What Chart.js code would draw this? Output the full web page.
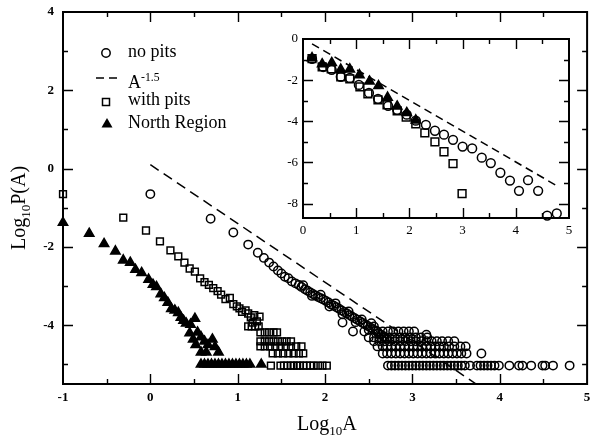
<!DOCTYPE html>
<html>
<head>
<meta charset="utf-8">
<script src="https://cdn.jsdelivr.net/npm/chart.js@4.4.0/dist/chart.umd.min.js"></script>
<style>
  html, body { margin: 0; padding: 0; background: #fff; }
  #wrap { position: relative; width: 594px; height: 439px; overflow: hidden;
          font-family: "Liberation Serif", "Times New Roman", serif; color: #000; }
  canvas { position: absolute; }
  #mainChart { left: 0; top: 0; }
  #insetChart { left: 268px; top: 28px; }
  .lbl { position: absolute; white-space: nowrap; line-height: 1; }
  .title { font-size: 20px; }
  .leg { font-size: 18px; left: 128px; }
  sub, sup { font-size: 65%; line-height: 0; }
  #yTitle { left: 8px; top: 250px; transform-origin: 0 0; transform: rotate(-90deg); }
  #xTitle { left: 297px; top: 413px; }
</style>
</head>
<body>
<div id="wrap">
  <canvas id="mainChart" width="594" height="439"></canvas>
  <canvas id="insetChart" width="316" height="220"></canvas>
  <div class="lbl title" id="yTitle">Log<sub>10</sub>P(A)</div>
  <div class="lbl title" id="xTitle">Log<sub>10</sub>A</div>
  <div class="lbl leg" style="top:42px">no pits</div>
  <div class="lbl leg" style="top:73px">A<sup>-1.5</sup></div>
  <div class="lbl leg" style="top:90px">with pits</div>
  <div class="lbl leg" style="top:113px">North Region</div>
</div>
<script>
// Log10 P(A) vs Log10 A -- main plot + inset

const mainXTicks = [-1, 0, 1, 2, 3, 4, 5];
const mainYTicks = [-4, -2, 0, 2, 4];
const insetXTicks = [0, 1, 2, 3, 4, 5];
const insetYTicks = [-8, -6, -4, -2, 0];

// --- main plot data ---
const noPits = [
  [0.00,-0.65],[0.69,-1.28],[0.95,-1.63],[1.12,-1.94],[1.23,-2.15],[1.30,-2.28],
  [1.36,-2.40],[1.41,-2.50],[1.46,-2.60],[1.50,-2.68],[1.54,-2.76],[1.58,-2.80],
  [1.62,-2.88],[1.66,-2.93],[1.70,-2.97],[1.73,-3.02],[1.77,-3.08],[1.80,-3.12],
  [1.83,-3.16],[1.86,-3.20],[1.89,-3.24],[1.92,-3.28],[1.95,-3.31],[1.98,-3.34],
  [2.01,-3.38],[2.04,-3.42],[2.07,-3.47],[2.10,-3.50],[2.13,-3.54],[2.16,-3.58],
  [2.19,-3.62],[2.22,-3.66],[2.25,-3.70],[2.28,-3.74],[2.31,-3.78],[2.34,-3.82],
  [2.37,-3.86],[2.40,-3.90],[2.43,-3.94],[2.46,-3.98],[2.49,-4.02],[2.52,-4.06],
  [2.55,-4.10],[2.58,-4.14],[2.61,-4.20],[2.64,-4.24],[2.67,-4.28],[2.70,-4.33],
  [1.75,-2.98],[1.85,-3.25],[1.95,-3.22],[2.05,-3.52],[2.12,-3.44],[2.20,-3.72],
  [2.27,-3.65],[2.35,-3.92],[2.42,-3.85],[2.50,-4.12],[2.56,-4.03],[2.20,-3.93],
  [2.45,-4.16],[2.53,-3.95],[3.16,-4.24],
  [2.32,-4.16],[2.60,-4.16],[2.66,-4.16],[2.72,-4.16],[2.78,-4.16],[2.84,-4.16],
  [2.90,-4.16],[2.96,-4.16],[3.02,-4.16],
  [2.50,-4.31],[2.56,-4.31],[2.62,-4.31],[2.68,-4.31],[2.74,-4.31],[2.80,-4.31],
  [2.86,-4.31],[2.92,-4.31],[2.98,-4.31],[3.04,-4.31],[3.10,-4.31],[3.17,-4.31],
  [2.56,-4.41],[2.62,-4.41],[2.68,-4.41],[2.74,-4.41],[2.80,-4.41],[2.86,-4.41],
  [2.92,-4.41],[2.98,-4.41],[3.04,-4.41],[3.10,-4.41],[3.16,-4.41],[3.22,-4.41],
  [3.28,-4.41],[3.34,-4.41],[3.41,-4.41],[3.48,-4.41],
  [2.60,-4.54],[2.66,-4.54],[2.71,-4.54],[2.76,-4.54],[2.81,-4.54],[2.86,-4.54],
  [2.91,-4.54],[2.96,-4.54],[3.01,-4.54],[3.06,-4.54],[3.11,-4.54],[3.16,-4.54],
  [3.21,-4.54],[3.26,-4.54],[3.31,-4.54],[3.36,-4.54],[3.42,-4.54],[3.48,-4.54],
  [3.55,-4.54],[3.61,-4.54],
  [2.66,-4.72],[2.71,-4.72],[2.76,-4.72],[2.81,-4.72],[2.86,-4.72],[2.91,-4.72],
  [2.96,-4.72],[3.01,-4.72],[3.06,-4.72],[3.11,-4.72],[3.16,-4.72],[3.21,-4.72],
  [3.26,-4.72],[3.31,-4.72],[3.36,-4.72],[3.41,-4.72],[3.46,-4.72],[3.51,-4.72],
  [3.56,-4.72],[3.62,-4.72],[3.79,-4.72],
  [2.72,-5.03],[2.76,-5.03],[2.80,-5.03],[2.84,-5.03],[2.88,-5.03],[2.92,-5.03],
  [2.96,-5.03],[3.00,-5.03],[3.04,-5.03],[3.08,-5.03],[3.12,-5.03],[3.16,-5.03],
  [3.20,-5.03],[3.24,-5.03],[3.28,-5.03],[3.32,-5.03],[3.36,-5.03],[3.40,-5.03],
  [3.44,-5.03],[3.48,-5.03],[3.52,-5.03],[3.56,-5.03],[3.60,-5.03],[3.66,-5.03],
  [3.74,-5.03],[3.78,-5.03],[3.82,-5.03],[3.86,-5.03],[3.90,-5.03],[3.94,-5.03],
  [3.99,-5.03],[4.11,-5.03],[4.22,-5.03],[4.26,-5.03],[4.36,-5.03],[4.49,-5.03],
  [4.52,-5.03],[4.61,-5.03],[4.80,-5.03]
];

const withPits = [
  [-1.00,-0.65],[-0.31,-1.25],[-0.05,-1.58],[0.11,-1.86],[0.23,-2.09],[0.32,-2.24],
  [0.39,-2.40],[0.45,-2.55],[0.51,-2.63],[0.57,-2.80],[0.62,-2.90],[0.67,-2.97],
  [0.72,-3.05],[0.77,-3.13],[0.81,-3.22],[0.86,-3.33],[0.91,-3.30],[0.95,-3.46],
  [0.99,-3.52],[1.02,-3.57],[1.05,-3.66],[1.09,-3.62],[1.12,-3.70],[1.15,-3.80],
  [1.19,-3.74],[1.22,-3.90],[1.17,-3.93],[1.25,-3.78],
  [1.12,-4.03],[1.16,-4.03],[1.20,-4.03],[1.24,-4.03],
  [1.26,-4.18],[1.31,-4.18],[1.36,-4.18],[1.41,-4.18],[1.45,-4.18],
  [1.26,-4.41],[1.31,-4.41],[1.36,-4.41],[1.41,-4.41],[1.46,-4.41],[1.51,-4.41],
  [1.56,-4.41],[1.61,-4.41],
  [1.26,-4.54],[1.31,-4.54],[1.37,-4.54],[1.43,-4.54],[1.49,-4.54],[1.55,-4.54],
  [1.61,-4.54],[1.67,-4.54],[1.73,-4.54],
  [1.40,-4.72],[1.46,-4.72],[1.52,-4.72],[1.58,-4.72],[1.64,-4.72],[1.70,-4.72],
  [1.75,-4.72],
  [1.38,-5.03],[1.49,-5.03],[1.53,-5.03],[1.57,-5.03],[1.61,-5.03],[1.64,-5.03],
  [1.68,-5.03],[1.71,-5.03],[1.75,-5.03],[1.79,-5.03],[1.83,-5.03],[1.87,-5.03],
  [1.92,-5.03],[1.97,-5.03],[2.02,-5.03]
];

const northRegion = [
  [-1.00,-1.38],[-0.70,-1.66],[-0.53,-1.92],[-0.40,-2.11],[-0.31,-2.34],[-0.23,-2.40],
  [-0.17,-2.58],[-0.10,-2.66],[-0.02,-2.83],[0.03,-2.96],[0.07,-3.02],[0.12,-3.20],
  [0.16,-3.30],[0.20,-3.42],[0.24,-3.58],[0.28,-3.62],[0.32,-3.68],[0.35,-3.80],
  [0.38,-3.88],[0.41,-3.95],[0.46,-3.98],[0.51,-3.83],[0.54,-4.18],[0.58,-4.30],
  [0.62,-4.41],[0.66,-4.50],[0.71,-4.36],[0.74,-4.55],[0.78,-4.69],[0.58,-4.69],
  [0.64,-4.69],[0.45,-4.20],[0.49,-4.36],[0.52,-4.50],
  [0.58,-5.00],[0.62,-5.00],[0.66,-5.00],[0.70,-5.00],[0.74,-5.00],[0.78,-5.00],
  [0.82,-5.00],[0.86,-5.00],[0.90,-5.00],[0.94,-5.00],[0.98,-5.00],[1.02,-5.00],
  [1.06,-5.00],[1.10,-5.00],[1.14,-5.00],[1.27,-5.00]
];

const powerLaw = [[0.00, 0.10], [3.73, -5.50]];   // A^-1.5

// --- inset data ---
const insetNoPits = [
  [0.17,-0.97],[0.38,-1.36],[0.54,-1.50],[0.71,-1.84],[0.88,-1.89],[1.05,-2.23],
  [1.24,-2.62],[1.41,-2.91],[1.60,-3.25],[1.77,-3.44],[1.95,-3.68],[2.12,-3.97],
  [2.31,-4.17],[2.48,-4.46],[2.65,-4.65],[2.82,-4.90],[3.00,-5.23],[3.18,-5.32],
  [3.36,-5.77],[3.53,-6.03],[3.71,-6.50],[3.89,-6.88],[4.06,-7.38],[4.23,-6.86],
  [4.42,-7.38],[4.59,-8.58],[4.77,-8.48]
];
const insetWithPits = [
  [0.17,-0.95],[0.36,-1.36],[0.53,-1.45],[0.71,-1.84],[0.88,-1.94],[1.07,-2.33],
  [1.22,-2.67],[1.41,-2.96],[1.58,-3.20],[1.77,-3.49],[1.94,-3.80],[2.12,-4.12],
  [2.29,-4.56],[2.48,-5.00],[2.65,-5.48],[2.82,-6.06],[2.99,-7.51]
];
const insetNorth = [
  [0.17,-0.92],[0.36,-1.22],[0.54,-1.16],[0.71,-1.48],[0.88,-1.47],[1.06,-1.75],
  [1.25,-2.06],[1.42,-2.28],[1.59,-2.84],[1.77,-3.27],[1.95,-3.59],[2.12,-3.95]
];
const insetPowerLaw = [[0.17, -0.24], [4.77, -7.13]];

const FONT = 'Liberation Serif';
const pts = list => list.map(([x, y]) => ({ x, y }));

// inward ticks on all four sides + frame (xmgrace look)
const frameTicks = {
  id: 'frameTicks',
  beforeDatasetsDraw(chart, args, opts) {
    const { ctx, chartArea: a, scales: { x, y } } = chart;
    ctx.save();
    ctx.strokeStyle = '#000';
    ctx.lineWidth = opts.tickWidth;
    const marks = (scale, majors) => {
      const step = majors[1] - majors[0];
      const out = [];
      for (let k = -4; k <= majors.length * 2 + 4; k++) {
        const v = majors[0] + k * step / 2;
        if (v > scale.min + 1e-9 && v < scale.max - 1e-9) out.push({ v, major: k % 2 === 0 });
      }
      return out;
    };
    ctx.beginPath();
    marks(x, opts.xMajors).forEach(({ v, major }) => {
      const p = Math.round(x.getPixelForValue(v)) + 0.5;
      const len = major ? opts.major : opts.minor;
      ctx.moveTo(p, a.bottom); ctx.lineTo(p, a.bottom - len);
      ctx.moveTo(p, a.top); ctx.lineTo(p, a.top + len);
    });
    marks(y, opts.yMajors).forEach(({ v, major }) => {
      const p = Math.round(y.getPixelForValue(v)) + 0.5;
      const len = major ? opts.major : opts.minor;
      ctx.moveTo(a.left, p); ctx.lineTo(a.left + len, p);
      ctx.moveTo(a.right, p); ctx.lineTo(a.right - len, p);
    });
    ctx.stroke();
    ctx.lineWidth = opts.frameWidth;
    ctx.strokeRect(a.left, a.top, a.right - a.left, a.bottom - a.top);
    ctx.restore();
  }
};

// legend symbols next to the html legend text
const legendMarks = {
  id: 'legendMarks',
  afterDraw(chart) {
    const ctx = chart.ctx;
    ctx.save();
    ctx.strokeStyle = '#000';
    ctx.fillStyle = '#000';
    ctx.lineWidth = 1.5;
    ctx.beginPath();
    ctx.arc(106, 53, 4.2, 0, Math.PI * 2);
    ctx.stroke();
    ctx.setLineDash([8, 5]);
    ctx.beginPath();
    ctx.moveTo(96, 78); ctx.lineTo(118, 78);
    ctx.stroke();
    ctx.setLineDash([]);
    ctx.strokeRect(102.5, 98.5, 7, 7);
    ctx.beginPath();
    ctx.moveTo(107, 118); ctx.lineTo(112.5, 127.5); ctx.lineTo(101.5, 127.5);
    ctx.closePath();
    ctx.fill();
    ctx.restore();
  }
};

function markerSet(data, style, radius, filled) {
  return {
    data: pts(data),
    showLine: false,
    pointStyle: style,
    pointRadius: radius,
    pointHoverRadius: radius,
    pointBorderWidth: 1.5,
    pointBorderColor: '#000',
    pointBackgroundColor: filled ? '#000' : 'rgba(0,0,0,0)',
    clip: false
  };
}
function dashedSet(data, dash) {
  return {
    data: pts(data),
    showLine: true,
    pointRadius: 0,
    borderColor: '#000',
    borderWidth: 1.5,
    borderDash: dash,
    fill: false
  };
}

function axis(min, max, ticks, font, pad, size, horizontal) {
  return {
    type: 'linear',
    min, max,
    grid: { display: false, drawTicks: false },
    border: { display: false },
    afterBuildTicks: s => { s.ticks = ticks.map(v => ({ value: v })); },
    afterFit: s => {
      if (horizontal) s.height = size; else s.width = size;
      s.paddingLeft = 0; s.paddingRight = 0; s.paddingTop = 0; s.paddingBottom = 0;
    },
    ticks: { color: '#000', padding: pad, maxRotation: 0, autoSkip: false, font }
  };
}

const mainTickFont = { family: FONT, size: 13, weight: 'bold' };
const insetTickFont = { family: FONT, size: 13 };

new Chart(document.getElementById('mainChart'), {
  type: 'scatter',
  data: {
    datasets: [
      markerSet(northRegion, 'triangle', 5.4, true),
      markerSet(withPits, 'rect', 4.8, false),
      markerSet(noPits, 'circle', 4.2, false),
      dashedSet(powerLaw, [10, 6])
    ]
  },
  options: {
    responsive: false,
    animation: false,
    devicePixelRatio: 1,
    events: [],
    layout: { padding: { left: 0, top: 12, right: 1, bottom: 0 } },
    scales: {
      x: axis(-1, 5, mainXTicks, mainTickFont, 6, 55, true),
      y: axis(-5.5, 4, mainYTicks, mainTickFont, 9, 63, false)
    },
    plugins: {
      legend: { display: false },
      tooltip: { enabled: false },
      frameTicks: { xMajors: mainXTicks, yMajors: mainYTicks, major: 10, minor: 5,
                    tickWidth: 1.4, frameWidth: 2 }
    }
  },
  plugins: [frameTicks, legendMarks]
});

new Chart(document.getElementById('insetChart'), {
  type: 'scatter',
  data: {
    datasets: [
      markerSet(insetNorth, 'triangle', 5.4, true),
      markerSet(insetWithPits, 'rect', 5.5, false),
      markerSet(insetNoPits, 'circle', 4.4, false),
      dashedSet(insetPowerLaw, [8, 5])
    ]
  },
  options: {
    responsive: false,
    animation: false,
    devicePixelRatio: 1,
    events: [],
    layout: { padding: { left: 0, top: 11, right: 15, bottom: 0 } },
    scales: {
      x: axis(0, 5, insetXTicks, insetTickFont, 5, 30, true),
      y: axis(-8.7, 0, insetYTicks, insetTickFont, 5, 35, false)
    },
    plugins: {
      legend: { display: false },
      tooltip: { enabled: false },
      frameTicks: { xMajors: insetXTicks, yMajors: insetYTicks, major: 10, minor: 5,
                    tickWidth: 1.4, frameWidth: 2 }
    }
  },
  plugins: [frameTicks]
});
</script>
</body>
</html>
